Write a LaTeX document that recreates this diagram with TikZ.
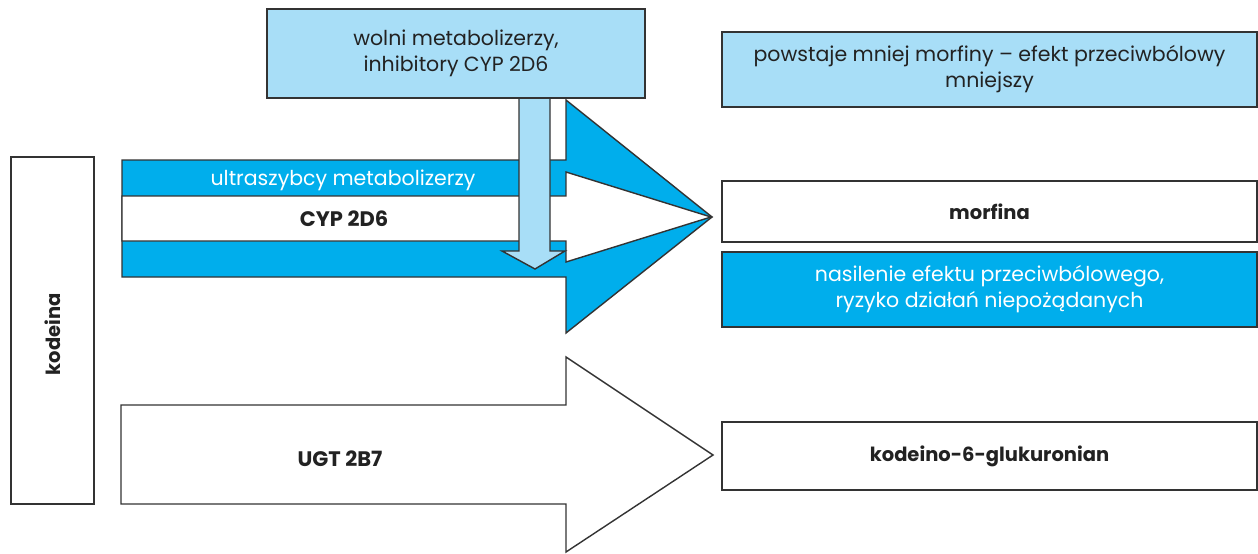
\documentclass[tikz,border=0pt]{standalone}
\usepackage{fontspec}
\setmainfont{Poppins}
\definecolor{lblue}{HTML}{A8DEF7}
\definecolor{dblue}{HTML}{00AEEC}
\definecolor{edge}{HTML}{333333}
\definecolor{ink}{HTML}{222222}
\begin{document}
\begin{tikzpicture}[x=1pt,y=-1pt,
  shp/.style={draw=edge,line width=1.4pt,line join=miter},
  box/.style={shp,rectangle,inner sep=0pt,outer sep=0pt,align=center},
  txt/.style={font=\fontsize{20.5}{26}\selectfont,text=ink,align=center},
  btxt/.style={font=\fontsize{19.5}{24}\selectfont\bfseries,text=ink,align=center},
  bigb/.style={font=\fontsize{21}{24}\selectfont\bfseries,text=ink,align=center}]
\useasboundingbox (0,0) rectangle (1258,554);
% big blue arrow
\draw[shp,fill=dblue] (122,160) -- (566,160) -- (566,100) -- (712,217) -- (566,333) -- (566,277) -- (122,277) -- cycle;
% inner white arrow
\draw[shp,fill=white] (122,196) -- (566,196) -- (566,172) -- (711,217) -- (566,262) -- (566,241) -- (122,241) -- cycle;
% UGT arrow
\draw[shp,fill=white] (121,405) -- (566,405) -- (566,357) -- (713,455) -- (566,552) -- (566,504) -- (121,504) -- cycle;
% down arrow
\draw[shp,fill=lblue] (519,96) -- (519,251) -- (502,251) -- (535,269) -- (565,251) -- (550,251) -- (550,96) -- cycle;
% boxes
\node[box,fill=lblue,minimum width=378pt,minimum height=89pt,txt] (slow) at (456,53.5) {wolni metabolizerzy,\\inhibitory CYP 2D6};
\node[box,fill=white,minimum width=83pt,minimum height=347pt] (kod) at (52.5,330.5) {};
\node[btxt,rotate=90] (kodt) at ([yshift=-4pt]kod.center) {kodeina};
\node[box,fill=lblue,minimum width=535pt,minimum height=75pt,txt] (less) at (989.5,69.5) {powstaje mniej morfiny -- efekt przeciwbólowy\\mniejszy};
\node[box,fill=white,minimum width=535pt,minimum height=61pt,btxt] (morf) at (989.5,211.5) {morfina};
\node[box,fill=dblue,minimum width=535pt,minimum height=75pt,txt,text=white] (more) at (989.5,289.5) {nasilenie efektu przeciwbólowego,\\ryzyko działań niepożądanych};
\node[box,fill=white,minimum width=535pt,minimum height=68pt,btxt] (gluk) at (989.5,456) {kodeino-6-glukuronian};
% labels on arrows
\node[txt,text=white] (ultra) at (343,180) {ultraszybcy metabolizerzy};
\node[bigb] (cyp) at (344,219) {CYP 2D6};
\node[bigb] (ugt) at (340,459) {UGT 2B7};
\end{tikzpicture}
\end{document}
